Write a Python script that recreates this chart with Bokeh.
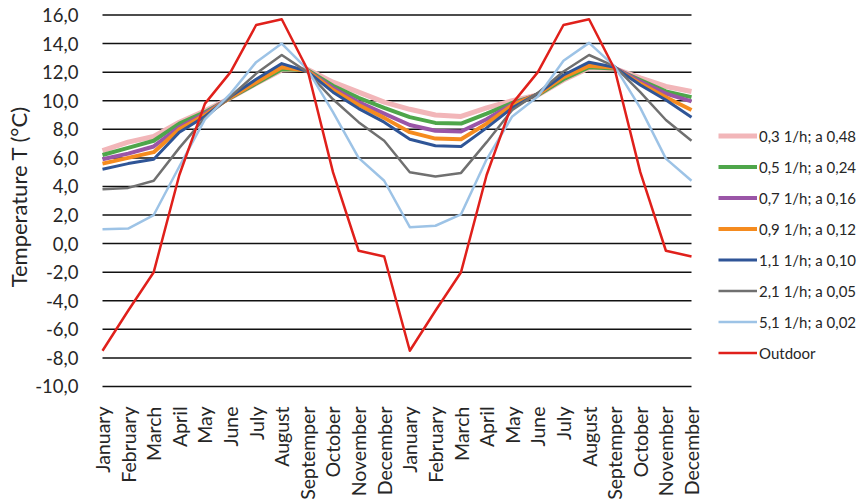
import numpy as np
from bokeh.plotting import figure
from bokeh.models import Range1d, FixedTicker, CustomJSTickFormatter, Legend, LegendItem
from bokeh.embed import file_html
from bokeh.resources import INLINE

months = ["January", "February", "March", "April", "May", "June", "July", "August",
          "Septemper", "October", "November", "December",
          "January", "February", "March", "April", "May", "June", "July", "August",
          "Septemper", "October", "November", "December"]

y_ticks = [-10, -8, -6, -4, -2, 0, 2, 4, 6, 8, 10, 12, 14, 16]

s_03 = [6.5, 7.1, 7.5, 8.5, 9.3, 10.2, 11.2, 12.15, 12.2, 11.3, 10.6, 9.9,
        9.4, 9.0, 8.9, 9.5, 10.0, 10.4, 11.45, 12.3, 12.25, 11.6, 11.0, 10.65]
s_05 = [6.2, 6.7, 7.2, 8.4, 9.2, 10.2, 11.2, 12.2, 12.15, 11.05, 10.2, 9.5,
        8.85, 8.45, 8.4, 9.1, 9.85, 10.4, 11.5, 12.35, 12.25, 11.45, 10.65, 10.25]
s_07 = [5.9, 6.3, 6.8, 8.15, 9.1, 10.25, 11.3, 12.4, 12.1, 10.9, 9.9, 9.1,
        8.3, 7.9, 7.85, 8.7, 9.75, 10.45, 11.7, 12.55, 12.3, 11.35, 10.5, 9.95]
s_09 = [5.6, 6.0, 6.4, 8.0, 9.0, 10.25, 11.3, 12.35, 12.1, 10.75, 9.7, 8.8,
        7.8, 7.35, 7.3, 8.4, 9.7, 10.45, 11.65, 12.45, 12.3, 11.2, 10.25, 9.35]
s_11 = [5.2, 5.6, 5.9, 7.8, 8.9, 10.3, 11.5, 12.6, 12.05, 10.6, 9.45, 8.5,
        7.3, 6.85, 6.8, 8.1, 9.5, 10.5, 11.8, 12.7, 12.35, 11.1, 10.05, 8.85]
s_21 = [3.8, 3.9, 4.4, 6.7, 8.8, 10.3, 11.9, 13.2, 12.0, 10.1, 8.5, 7.2,
        5.0, 4.7, 4.95, 7.1, 9.35, 10.55, 12.05, 13.2, 12.4, 10.6, 8.65, 7.2]
s_51 = [1.0, 1.05, 2.0, 5.4, 8.7, 10.5, 12.7, 14.0, 12.2, 9.2, 6.0, 4.4,
        1.15, 1.25, 2.05, 5.9, 8.9, 10.3, 12.8, 14.05, 12.4, 9.5, 5.95, 4.4]
outdoor = [-7.5, -4.7, -2.0, 4.8, 9.8, 12.0, 15.3, 15.7, 12.2, 5.0, -0.5, -0.9,
           -7.5, -4.7, -2.0, 4.8, 9.8, 12.0, 15.3, 15.7, 12.2, 5.0, -0.5, -0.9]

labels = ["0,3 1/h; a 0,48", "0,5 1/h; a 0,24", "0,7 1/h; a 0,16", "0,9 1/h; a 0,12",
          "1,1 1/h; a 0,10", "2,1 1/h; a 0,05", "5,1 1/h; a 0,02", "Outdoor"]
series = [s_03, s_05, s_07, s_09, s_11, s_21, s_51, outdoor]
colors = ["#F2B6B9", "#4EA64A", "#9A55A7", "#F58B1F", "#2F5597", "#707070", "#9DC3E6", "#E0201B"]
widths = [5, 4, 4, 4, 3, 2.5, 2.5, 2.5]

x = list(range(len(months)))

# frame spans to the right edge so the legend (drawn inside the frame) is not clipped
p = figure(width=861, height=504, output_backend="svg", toolbar_location=None,
           x_range=Range1d(-0.078, 29.638), y_range=Range1d(-10.14, 16.735),
           min_border_left=100, min_border_right=0, min_border_top=4, min_border_bottom=116)
p.outline_line_color = None
p.background_fill_color = "white"
p.border_fill_color = "white"

p.xgrid.visible = False
p.ygrid.visible = False

FONT = "Lato"
TXT = "#262626"

# horizontal gridlines spanning the category extent only
n = len(y_ticks)
p.segment(x0=[x[0]] * n, y0=y_ticks, x1=[x[-1]] * n, y1=y_ticks,
          line_color="#111111", line_width=1.5)

p.yaxis.ticker = FixedTicker(ticks=y_ticks)
p.yaxis.formatter = CustomJSTickFormatter(code="return tick.toFixed(1).replace('.', ',');")
p.yaxis.axis_line_color = None
p.yaxis.major_tick_line_color = None
p.yaxis.minor_tick_line_color = None
p.yaxis.major_label_standoff = 16
p.yaxis.major_label_text_font = FONT
p.yaxis.major_label_text_font_size = "18.5px"
p.yaxis.major_label_text_color = TXT
p.yaxis.axis_label = "Temperature T (°C)"
p.yaxis.axis_label_text_font = FONT
p.yaxis.axis_label_text_font_size = "22px"
p.yaxis.axis_label_text_font_style = "normal"
p.yaxis.axis_label_text_color = TXT
p.yaxis.axis_label_standoff = 0

p.xaxis.ticker = FixedTicker(ticks=x)
p.xaxis.formatter = CustomJSTickFormatter(args=dict(names=months),
                                          code="return names[Math.round(tick)];")
p.xaxis.major_label_orientation = np.pi / 2
p.xaxis.axis_line_color = None
p.xaxis.major_tick_line_color = None
p.xaxis.minor_tick_line_color = None
p.xaxis.major_label_standoff = 12
p.xaxis.major_label_text_font = FONT
p.xaxis.major_label_text_font_size = "19.5px"
p.xaxis.major_label_text_color = TXT

items = []
for lab, vals, col, w in zip(labels, series, colors, widths):
    r = p.line(x, vals, line_color=col, line_width=w, line_join="round")
    items.append(LegendItem(label=lab, renderers=[r]))

legend = Legend(items=items, location=(618, 25))
legend.padding = 0
legend.margin = 0
legend.border_line_color = None
legend.background_fill_alpha = 0
legend.glyph_width = 39
legend.glyph_height = 21
legend.label_height = 21
legend.spacing = 10
legend.label_standoff = 2
legend.label_text_font = FONT
legend.label_text_font_size = "15px"
legend.label_text_color = TXT
p.add_layout(legend)

open("out.html", "w").write(file_html(p, INLINE))
